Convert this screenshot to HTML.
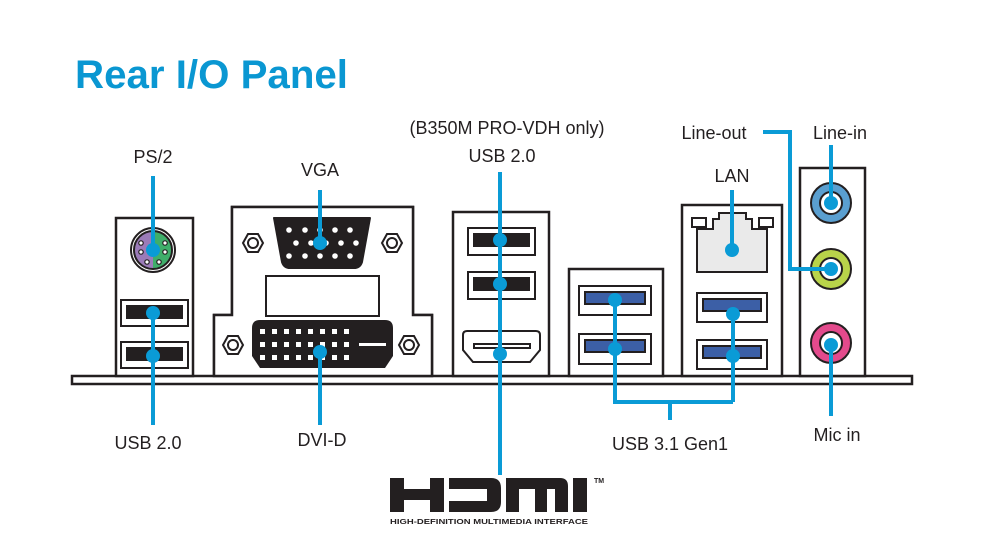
<!DOCTYPE html>
<html><head><meta charset="utf-8"><style>
html,body{margin:0;padding:0;background:#fff;}
svg{display:block;}
text{font-family:"Liberation Sans",sans-serif;fill:#231f20;}
</style></head><body>
<svg width="982" height="550" viewBox="0 0 982 550" xmlns="http://www.w3.org/2000/svg">
<text x="75" y="88" font-size="40" font-weight="bold" style="fill:#0a97d2" textLength="273" lengthAdjust="spacingAndGlyphs">Rear I/O Panel</text>

<g fill="none" stroke="#231f20" stroke-width="2.5">
<!-- base plate -->
<rect x="72" y="376" width="840" height="8" fill="#fff"/>
<!-- PS2 panel -->
<rect x="116" y="218" width="77" height="158" fill="#fff"/>
<!-- VGA/DVI panel -->
<path d="M232 376 V315 H214 V376 M232 315 V207 H413 V315 H432 V376" fill="#fff"/>
<path d="M214 376 V315 H232 V207 H413 V315 H432 V376 Z" fill="#fff"/>
<!-- USB2/HDMI panel -->
<rect x="453" y="212" width="96" height="164" fill="#fff"/>
<rect x="569" y="269" width="94" height="107" fill="#fff"/>
<rect x="682" y="205" width="100" height="171" fill="#fff"/>
<rect x="800" y="168" width="65" height="208" fill="#fff"/>
</g>

<!-- PS/2 -->
<circle cx="153" cy="250" r="22" fill="#fff" stroke="#231f20" stroke-width="2"/>
<path d="M153 231 a19 19 0 0 0 0 38 z" fill="#9b7bb8"/>
<path d="M153 231 a19 19 0 0 1 0 38 z" fill="#3fae6a"/>
<circle cx="153" cy="250" r="19" fill="none" stroke="#231f20" stroke-width="2"/>
<g fill="#fff" stroke="#231f20" stroke-width="1.2">
<circle cx="141" cy="243" r="2.2"/><circle cx="165" cy="243" r="2.2"/><circle cx="141" cy="252" r="2.2"/><circle cx="165" cy="252" r="2.2"/><circle cx="147" cy="262" r="2.2"/><circle cx="159" cy="262" r="2.2"/></g>
<!-- USB on PS2 panel -->
<g stroke="#231f20" stroke-width="2">
<rect x="121" y="300" width="67" height="26" fill="#fff"/><rect x="127" y="306" width="55" height="12" fill="#231f20"/>
<rect x="121" y="342" width="67" height="26" fill="#fff"/><rect x="127" y="348" width="55" height="12" fill="#231f20"/>
</g>

<!-- VGA -->
<path d="M274 218 H370 L362 262 Q360 268 354 268 H290 Q284 268 282 262 Z" fill="#231f20" stroke="#231f20" stroke-width="2" stroke-linejoin="round"/>
<g fill="#fff">
<circle cx="289" cy="230" r="2.8"/><circle cx="305" cy="230" r="2.8"/><circle cx="320" cy="230" r="2.8"/><circle cx="335" cy="230" r="2.8"/><circle cx="350" cy="230" r="2.8"/>
<circle cx="296" cy="243" r="2.8"/><circle cx="311" cy="243" r="2.8"/><circle cx="326" cy="243" r="2.8"/><circle cx="341" cy="243" r="2.8"/><circle cx="356" cy="243" r="2.8"/>
<circle cx="289" cy="256" r="2.8"/><circle cx="305" cy="256" r="2.8"/><circle cx="320" cy="256" r="2.8"/><circle cx="335" cy="256" r="2.8"/><circle cx="350" cy="256" r="2.8"/>
</g>
<g fill="#fff" stroke="#231f20" stroke-width="2">
<polygon points="243,243 248,234 258,234 263,243 258,252 248,252"/><circle cx="253" cy="243" r="5"/>
<polygon points="382,243 387,234 397,234 402,243 397,252 387,252"/><circle cx="392" cy="243" r="5"/>
<polygon points="223,345 228,336 238,336 243,345 238,354 228,354"/><circle cx="233" cy="345" r="5"/>
<polygon points="399,345 404,336 414,336 419,345 414,354 404,354"/><circle cx="409" cy="345" r="5"/>
<rect x="266" y="276" width="113" height="40"/>
</g>
<!-- DVI -->
<path d="M252 328 Q252 320 260 320 H385 Q393 320 393 328 V356 L385 368 H260 L252 356 Z" fill="#231f20"/>
<g fill="#fff">
<rect x="260" y="329" width="5" height="5"/><rect x="272" y="329" width="5" height="5"/><rect x="284" y="329" width="5" height="5"/><rect x="296" y="329" width="5" height="5"/><rect x="308" y="329" width="5" height="5"/><rect x="320" y="329" width="5" height="5"/><rect x="332" y="329" width="5" height="5"/><rect x="344" y="329" width="5" height="5"/>
<rect x="260" y="342" width="5" height="5"/><rect x="272" y="342" width="5" height="5"/><rect x="284" y="342" width="5" height="5"/><rect x="296" y="342" width="5" height="5"/><rect x="308" y="342" width="5" height="5"/><rect x="320" y="342" width="5" height="5"/><rect x="332" y="342" width="5" height="5"/><rect x="344" y="342" width="5" height="5"/>
<rect x="260" y="355" width="5" height="5"/><rect x="272" y="355" width="5" height="5"/><rect x="284" y="355" width="5" height="5"/><rect x="296" y="355" width="5" height="5"/><rect x="308" y="355" width="5" height="5"/><rect x="320" y="355" width="5" height="5"/><rect x="332" y="355" width="5" height="5"/><rect x="344" y="355" width="5" height="5"/>
<rect x="359" y="343" width="27" height="3"/>
</g>

<!-- USB2 + HDMI -->
<g stroke="#231f20" stroke-width="2">
<rect x="468" y="228" width="67" height="27" fill="#fff"/><rect x="474" y="234" width="55" height="12" fill="#231f20"/>
<rect x="468" y="272" width="67" height="27" fill="#fff"/><rect x="474" y="278" width="55" height="12" fill="#231f20"/>
<path d="M463 335 Q463 331 467 331 H536 Q540 331 540 335 V350 L530 362 H473 L463 350 Z" fill="#fff"/>
<rect x="474" y="344" width="56" height="4" fill="#fff"/>
</g>

<!-- USB3 -->
<g stroke="#231f20" stroke-width="2">
<rect x="579" y="286" width="72" height="29" fill="#fff"/><rect x="585" y="292" width="60" height="12" fill="#3c5fa6"/>
<rect x="579" y="334" width="72" height="30" fill="#fff"/><rect x="585" y="340" width="60" height="12" fill="#3c5fa6"/>
<rect x="697" y="293" width="70" height="29" fill="#fff"/><rect x="703" y="299" width="58" height="12" fill="#3c5fa6"/>
<rect x="697" y="340" width="70" height="29" fill="#fff"/><rect x="703" y="346" width="58" height="12" fill="#3c5fa6"/>
<!-- LAN -->
<path d="M697 272 V229 H713 V219 H719 V213 H746 V219 H752 V229 H767 V272 Z" fill="#eaeaea"/>
<rect x="692" y="218" width="14" height="9" fill="#fff"/>
<rect x="759" y="218" width="14" height="9" fill="#fff"/>
</g>

<!-- audio jacks -->
<g stroke="#231f20" stroke-width="2">
<circle cx="831" cy="203" r="20" fill="#5a9fd0"/><circle cx="831" cy="203" r="11" fill="#fff"/>
<circle cx="831" cy="269" r="20" fill="#b9d44a"/><circle cx="831" cy="269" r="11" fill="#fff"/>
<circle cx="831" cy="343" r="20" fill="#e34a8c"/><circle cx="831" cy="343" r="11" fill="#fff"/>
</g>

<!-- leaders -->
<g stroke="#0a9bd6" stroke-width="4" fill="none">
<path d="M153 176 V250"/>
<path d="M153 313 V425"/>
<path d="M320 190 V243"/>
<path d="M320 352 V425"/>
<path d="M500 172 V475"/>
<path d="M615 300 V402 H733 M733 308 V402 M670 402 V420"/>
<path d="M732 190 V250"/>
<path d="M831 145 V203"/>
<path d="M763 132 H790 V269 H831"/>
<path d="M831 343 V416"/>
</g>
<g fill="#0a9bd6">
<circle cx="153" cy="250" r="7"/><circle cx="153" cy="313" r="7"/><circle cx="153" cy="356" r="7"/>
<circle cx="320" cy="243" r="7"/><circle cx="320" cy="352" r="7"/>
<circle cx="500" cy="240" r="7"/><circle cx="500" cy="284" r="7"/><circle cx="500" cy="354" r="7"/>
<circle cx="615" cy="300" r="7"/><circle cx="615" cy="349" r="7"/>
<circle cx="733" cy="314" r="7"/><circle cx="733" cy="356" r="7"/>
<circle cx="732" cy="250" r="7"/>
<circle cx="831" cy="203" r="7"/><circle cx="831" cy="269" r="7"/><circle cx="831" cy="345" r="7"/>
</g>

<!-- labels -->
<g font-size="18" text-anchor="middle">
<text x="153" y="163">PS/2</text>
<text x="320" y="176">VGA</text>
<text x="507" y="134">(B350M PRO-VDH only)</text>
<text x="502" y="162">USB 2.0</text>
<text x="732" y="182">LAN</text>
<text x="714" y="139">Line-out</text>
<text x="840" y="139">Line-in</text>
<text x="148" y="449">USB 2.0</text>
<text x="322" y="446">DVI-D</text>
<text x="670" y="450">USB 3.1 Gen1</text>
<text x="837" y="441">Mic in</text>
</g>

<!-- HDMI logo -->
<g fill="#231f20">
<path d="M390 478 h14 v11 h26 v-11 h14 v34 h-14 v-12 h-26 v12 h-14 z"/>
<path d="M449 478 h42 q10 0 10 10 v14 q0 10 -10 10 h-42 v-11 h38 v-12 h-38 z"/>
<path d="M506 478 h54 q8 0 8 8 v26 h-13 v-23 h-8 v23 h-12 v-23 h-16 v23 h-13 z"/>
<rect x="573" y="478" width="14" height="34"/>
</g>
<text x="594" y="483" font-size="7" font-weight="bold">TM</text>
<text x="489" y="524" font-size="7.5" font-weight="bold" text-anchor="middle" textLength="198" lengthAdjust="spacingAndGlyphs">HIGH-DEFINITION MULTIMEDIA INTERFACE</text>
</svg>
</body></html>
